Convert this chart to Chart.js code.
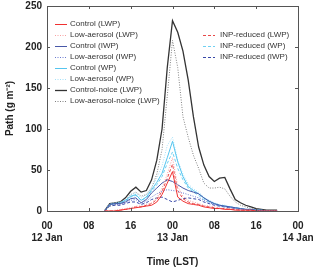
<!DOCTYPE html>
<html><head><meta charset="utf-8">
<script src="https://cdn.jsdelivr.net/npm/chart.js@4.4.0/dist/chart.umd.min.js"></script>
<style>html,body{margin:0;padding:0;background:#fff;}canvas{display:block}</style>
</head><body>
<canvas id="c" width="320" height="270"></canvas>
<script>
// hours since 00 LST 12 Jan
const hours = [11,12,13,14,15,16,17,18,19,20,21,22,23,24,25,26,27,28,29,30,31,32,33,34,35,36,37,38,39,40,41,42,43,44];

const controlLWP   = [0,0,0,1,2,3,4,5,6,7,11,20,34,48,17,12,9,8,7,5,4,3,3,2,2,1,1,1,1,0,0,0,0,0];
const lowAerLWP    = [0,0,1,2,3,4,6,6,8,10,16,28,45,65,30,18,13,11,9,7,6,5,4,3,3,2,1,1,1,0,0,0,0,0];
const controlIWP   = [0,8,9,9,11,15,16,10,14,22,28,34,38,36,32,28,25,23,21,16,12,9,7,6,5,4,3,2,2,1,1,0,0,0];
const lowAerIWP    = [0,7,8,8,10,13,14,9,12,17,21,24,26,25,24,22,20,18,16,13,10,8,6,5,4,3,2,2,1,1,0,0,0,0];
const controlWP    = [0,8,9,10,13,18,20,13,17,26,35,46,65,85,60,42,30,25,21,16,12,9,7,6,5,4,3,2,2,1,1,0,0,0];
const lowAerWP     = [0,9,10,11,14,20,22,16,20,29,40,55,80,90,62,45,33,27,23,17,13,10,8,7,5,4,3,2,2,1,1,0,0,0];
const controlNoIce = [0,9,10,11,16,24,29,23,25,38,62,100,175,232,218,195,160,115,78,56,42,36,40,41,27,14,10,7,5,3,2,1,1,1];
const lowAerNoIce  = [0,6,8,9,13,20,23,18,20,28,45,75,140,208,175,115,90,68,52,34,28,28,29,27,18,11,7,5,3,2,1,0,0,0];
const inpLWP       = [0,0,0,1,2,3,5,5,7,9,14,24,40,57,25,15,11,9,8,6,5,4,3,3,2,2,1,1,0,0,0,0,0,0];
const inpWP        = [0,8,9,10,12,17,19,13,16,24,32,42,58,72,52,38,28,23,19,14,11,9,7,6,5,4,3,2,1,1,0,0,0,0];
const inpIWP       = [0,6,7,7,9,11,11,8,10,14,16,17,14,11,13,15,16,15,14,11,9,7,6,5,4,3,2,2,1,1,0,0,0,0];

const xTickValues = [0,8,16,24,32,40,48];
const xTickHours  = ["00","08","16","00","08","16","00"];
const xTickDates  = ["12 Jan","","","13 Jan","","","14 Jan"];
const yTickValues = [0,50,100,150,200,250];

const leftLegend  = ["Control (LWP)","Low-aerosol (LWP)","Control (IWP)","Low-aerosol (IWP)","Control (WP)","Low-aerosol (WP)","Control-noice (LWP)","Low-aerosol-noice (LWP)"];
const rightLegend = ["INP-reduced (LWP)","INP-reduced (WP)","INP-reduced (IWP)"];

const DOT = [1,1.5], DASH = [3,2];
function pts(v){ return hours.map((h,i)=>({x:h,y:v[i]})); }
function ds(label, vals, color, dash, w){
  return {label, data: pts(vals), borderColor: color, backgroundColor: color, borderDash: dash||[], borderWidth: w||1, pointRadius:0, tension:0, fill:false};
}
const datasets = [
  ds(leftLegend[0], controlLWP, '#f03030'),
  ds(leftLegend[1], lowAerLWP, '#f7a0a0', DOT),
  ds(leftLegend[2], controlIWP, '#4858a8'),
  ds(leftLegend[3], lowAerIWP, '#6a7ad0', DOT),
  ds(leftLegend[4], controlWP, '#55c5ef'),
  ds(leftLegend[5], lowAerWP, '#a5e0f8', DOT),
  ds(leftLegend[6], controlNoIce, '#333333', [], 1.3),
  ds(leftLegend[7], lowAerNoIce, '#808080', DOT),
  ds(rightLegend[0], inpLWP, '#e84848', DASH),
  ds(rightLegend[1], inpWP, '#6fd0f2', DASH),
  ds(rightLegend[2], inpIWP, '#3848a8', DASH)
];

const FONT = '"Liberation Sans", Arial, sans-serif';

const boxPlugin = {
  id:'box',
  afterDraw(chart){
    const {ctx, chartArea:a, scales:{x,y}} = chart;
    ctx.save();
    ctx.strokeStyle = '#555'; ctx.lineWidth = 1;
    ctx.strokeRect(Math.round(a.left)+0.5, Math.round(a.top)+0.5, Math.round(a.right-a.left), Math.round(a.bottom-a.top));
    ctx.beginPath();
    xTickValues.forEach(v=>{
      const px = Math.round(x.getPixelForValue(v))+0.5;
      ctx.moveTo(px, a.bottom); ctx.lineTo(px, a.bottom-3);
      ctx.moveTo(px, a.top); ctx.lineTo(px, a.top+3);
    });
    yTickValues.forEach(v=>{
      const py = Math.round(y.getPixelForValue(v))+0.5;
      ctx.moveTo(a.left, py); ctx.lineTo(a.left+3, py);
      ctx.moveTo(a.right, py); ctx.lineTo(a.right-3, py);
    });
    ctx.stroke();
    // legends
    ctx.font = '8px ' + FONT;
    ctx.textBaseline = 'middle';
    ctx.fillStyle = '#333';
    const drawEntry = (d, x0, x1, tx, yy) => {
      ctx.save();
      ctx.strokeStyle = d.borderColor; ctx.lineWidth = d.borderWidth;
      ctx.setLineDash(d.borderDash || []);
      ctx.beginPath(); ctx.moveTo(x0, yy+0.5); ctx.lineTo(x1, yy+0.5); ctx.stroke();
      ctx.restore();
      ctx.fillText(d.label, tx, yy);
    };
    leftLegend.forEach((t,i)=> drawEntry(chart.data.datasets[i], 55, 67, 70, 24 + i*11));
    rightLegend.forEach((t,i)=> drawEntry(chart.data.datasets[8+i], 203, 215, 220, 35 + i*11));
    ctx.restore();
  }
};

new Chart(document.getElementById('c'), {
  type:'line',
  data:{ datasets },
  options:{
    responsive:false, animation:false, devicePixelRatio:1,
    layout:{ padding:{ top:6, right:22, left:0, bottom:0 } },
    plugins:{ legend:{display:false}, tooltip:{enabled:false} },
    scales:{
      x:{ type:'linear', min:0, max:48,
        afterBuildTicks(s){ s.ticks = xTickValues.map(v=>({value:v})); },
        afterFit(s){ s.height = 59; s.paddingLeft = 0; s.paddingRight = 0; },
        grid:{ display:false, drawTicks:false }, border:{ display:false },
        ticks:{ padding:9, color:'#222', font:{family:FONT, size:10, weight:'bold'}, maxRotation:0, autoSkip:false,
          callback(v){ const i = xTickValues.indexOf(v); return xTickDates[i] ? [xTickHours[i], xTickDates[i]] : xTickHours[i]; } },
        title:{ display:true, text:'Time (LST)', color:'#222', font:{family:FONT, size:10, weight:'bold'}, padding:{top:0,bottom:2} }
      },
      y:{ min:0, max:250,
        afterBuildTicks(s){ s.ticks = yTickValues.map(v=>({value:v})); },
        afterFit(s){ s.width = 47; s.paddingTop = 0; s.paddingBottom = 0; },
        grid:{ display:false, drawTicks:false }, border:{ display:false },
        ticks:{ padding:5, color:'#222', font:{family:FONT, size:10, weight:'bold'} },
        title:{ display:true, text:'Path (g m⁻²)', color:'#222', font:{family:FONT, size:10, weight:'bold'}, padding:{top:4,bottom:0} }
      }
    }
  },
  plugins:[boxPlugin]
});
</script>
</body></html>
